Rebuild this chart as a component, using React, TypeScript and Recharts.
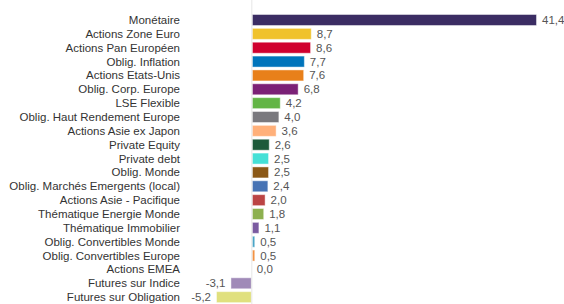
import { BarChart, Bar, XAxis, YAxis, ReferenceLine, Cell } from 'recharts';

const categories = [
  'Monétaire',
  'Actions Zone Euro',
  'Actions Pan Européen',
  'Oblig. Inflation',
  'Actions Etats-Unis',
  'Oblig. Corp. Europe',
  'LSE Flexible',
  'Oblig. Haut Rendement Europe',
  'Actions Asie ex Japon',
  'Private Equity',
  'Private debt',
  'Oblig. Monde',
  'Oblig. Marchés Emergents (local)',
  'Actions Asie - Pacifique',
  'Thématique Energie Monde',
  'Thématique Immobilier',
  'Oblig. Convertibles Monde',
  'Oblig. Convertibles Europe',
  'Actions EMEA',
  'Futures sur Indice',
  'Futures sur Obligation',
];

const values = [41.4, 8.7, 8.6, 7.7, 7.6, 6.8, 4.2, 4.0, 3.6, 2.6, 2.5, 2.5, 2.4, 2.0, 1.8, 1.1, 0.5, 0.5, 0.0, -3.1, -5.2];

const colors = [
  '#3b2d63', '#f0c22b', '#d0002f', '#0074bb', '#e8801a', '#7b2176', '#63b546',
  '#7a797e', '#ffb07a', '#1d5a3a', '#45e0d6', '#8b5816', '#4773b4', '#bb4444',
  '#8db04f', '#7a5aa0', '#4aa5c7', '#f39243', '#cccccc', '#a08ab8', '#e0e07e',
];

const data = categories.map((name, i) => ({ name, value: values[i], fill: colors[i] }));

const fmt = (v: number) => v.toFixed(1).replace('.', ',');

// rect + value label together, so the 0,0 row still gets its label
const BarWithLabel = (props: any) => {
  const { x, y, width, height, fill, value } = props;
  const v = Array.isArray(value) ? value[1] - value[0] : value;
  const left = Math.min(x, x + width);
  const right = Math.max(x, x + width);
  const w = Math.abs(width);
  const neg = v < 0;
  return (
    <g>
      {w > 0 && (
        <rect x={left + 0.5} y={y + 0.5} width={Math.max(w - 1, 0)} height={height - 1} fill={fill} stroke="#ffffff" strokeOpacity={0.45} strokeWidth={1} />
      )}
      <text
        x={neg ? left - 5 : right + 5}
        y={y + height / 2}
        dy="0.35em"
        textAnchor={neg ? 'end' : 'start'}
        fontSize={11.5}
        fill="#555"
      >
        {fmt(v)}
      </text>
    </g>
  );
};

const CatTick = (props: any) => {
  const { x, y, payload } = props;
  return (
    <text x={x} y={y} dy="0.35em" textAnchor="end" fontSize={11.5} fill="#333">
      {payload.value}
    </text>
  );
};

export default function App() {
  return (
    <div style={{ position: 'absolute', left: 0, top: 0, fontFamily: '"Liberation Sans", Arial, sans-serif' }}>
      <BarChart
        width={564}
        height={304}
        data={data}
        layout="vertical"
        margin={{ top: 0, right: 27, bottom: 0, left: 0 }}
        barSize={12}
      >
        <XAxis type="number" domain={[-5.2, 41.4]} hide />
        <YAxis
          type="category"
          dataKey="name"
          width={216}
          axisLine={false}
          tickLine={false}
          tickSize={0}
          tickMargin={36}
          interval={0}
          padding={{ top: 13, bottom: 0 }}
          tick={<CatTick />}
        />
        <ReferenceLine x={0} stroke="#e6e6e6" strokeWidth={1} />
        <Bar dataKey="value" isAnimationActive={false} shape={BarWithLabel}>
          {data.map((d, i) => (
            <Cell key={`c-${i}`} fill={d.fill} />
          ))}
        </Bar>
      </BarChart>
    </div>
  );
}
